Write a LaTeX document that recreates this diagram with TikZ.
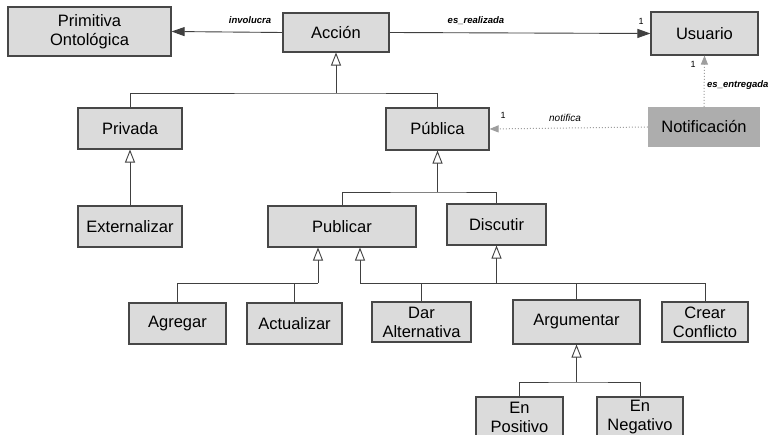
\documentclass[tikz,border=0pt]{standalone}
\usepackage{fontspec}
\setmainfont{Liberation Sans}
\usetikzlibrary{arrows.meta}

\definecolor{boxfill}{gray}{0.86}
\definecolor{boxline}{gray}{0.28}
\definecolor{darkfill}{gray}{0.68}
\definecolor{depline}{gray}{0.62}

\begin{document}
\begin{tikzpicture}[x=1pt,y=-1pt,
  cls/.style={draw=boxline, fill=boxfill, line width=1.1pt, inner sep=0pt,
    align=center, font=\fontsize{16.5}{19}\selectfont},
  notebox/.style={fill=darkfill, inner sep=0pt, align=center,
    font=\fontsize{16.5}{19}\selectfont},
  conn/.style={draw=black!75, line width=0.9pt},
  gen/.style={conn, -{Triangle[length=13pt, width=10pt, fill=white, line width=0.9pt]}},
  assoc/.style={conn, -{Triangle[length=13pt, width=9pt]}},
  dep/.style={draw=depline, line width=1pt, dotted,
    -{Triangle[length=9pt, width=7pt, fill=depline]}},
  rolelbl/.style={font=\fontsize{9.5}{11}\selectfont\bfseries\itshape, inner sep=0pt},
  multlbl/.style={font=\fontsize{9}{11}\selectfont, inner sep=0pt}]

\useasboundingbox (0,0) rectangle (774,435);
\fill[white] (0,0) rectangle (774,435);

% classes
\node[cls, minimum width=163pt, minimum height=49pt] (prim) at (89.5,31.5) {Primitiva\\Ontológica};
\node[cls, minimum width=106pt, minimum height=39pt] (accion) at (336,32.5) {Acción};
\node[cls, minimum width=107pt, minimum height=43pt] (usuario) at (704.5,33.5) {Usuario};
\node[notebox, minimum width=112pt, minimum height=40pt] (notif) at (704,127) {Notificación};
\node[cls, minimum width=104pt, minimum height=41pt] (privada) at (130,128.5) {Privada};
\node[cls, minimum width=103pt, minimum height=42pt] (publica) at (437.5,129) {Pública};
\node[cls, minimum width=104pt, minimum height=41pt] (extern) at (130,226.5) {Externalizar};
\node[cls, minimum width=148pt, minimum height=41pt] (publicar) at (342,226.5) {Publicar};
\node[cls, minimum width=99pt, minimum height=41pt] (discutir) at (496.5,224.5) {Discutir};
\node[cls, minimum width=97pt, minimum height=41pt] (agregar) at (177.5,323.5) {Agregar};
\node[cls, minimum width=95pt, minimum height=41pt] (actualizar) at (294.5,323.5) {Actualizar};
\node[cls, minimum width=99pt, minimum height=40pt] (dar) at (421.5,322) {Dar\\Alternativa};
\node[cls, minimum width=127pt, minimum height=44pt] (argumentar) at (576.5,322) {Argumentar};
\node[cls, minimum width=86pt, minimum height=40pt] (crear) at (705,322) {Crear\\Conflicto};
\node[cls, minimum width=87pt, minimum height=40pt] (enpos) at (519.5,417) {En\\Positivo};
\node[cls, minimum width=86pt, minimum height=40pt] (enneg) at (640,417) {En\\Negativo};

% associations
\draw[assoc] (accion.west) -- (prim.east);
\node[rolelbl] (lblinv) at (250,20) {involucra};
\draw[assoc] (accion.east) -- (usuario.west);
\node[rolelbl] (lblreal) at (476,21) {es\_realizada};
\node[multlbl] (m1) at (641,21) {1};

% notifications
\draw[dep] (notif.north) -- (usuario.south);
\node[multlbl] (m2) at (693,64) {1};
\node[rolelbl, anchor=west] (lblent) at (707,85) {es\_entregada};
\draw[dep] (notif.west) -- (publica.east);
\node[font=\fontsize{10}{12}\selectfont\itshape, inner sep=0pt] (lblnot) at (565,118) {notifica};
\node[multlbl] (m3) at (503,115) {1};

% generalization: Acción
\coordinate (j1) at (336,93);
\draw[conn] (privada.north) |- (j1) -| (publica.north);
\draw[gen] (j1) -- (accion.south);

% generalization: Privada
\draw[gen] (extern.north) -- (privada.south);

% generalization: Pública
\coordinate (j2) at (437.5,192);
\draw[conn] (publicar.north) |- (j2) -| (discutir.north);
\draw[gen] (j2) -- (publica.south);

% generalization: Publicar (left branch)
\coordinate (j3) at (318,283);
\draw[conn] (agregar.north) |- (j3);
\draw[conn] (actualizar.north) -- (actualizar.north |- j3);
\draw[gen] (j3) -- (j3 |- publicar.south);

% generalization: Publicar (right branch) and Discutir
\coordinate (j4) at (360,283);
\coordinate (j5) at (496.5,283);
\draw[conn] (j4) -| (crear.north);
\draw[conn] (dar.north) -- (dar.north |- j4);
\draw[conn] (argumentar.north) -- (argumentar.north |- j4);
\draw[gen] (j4) -- (j4 |- publicar.south);
\draw[gen] (j5) -- (discutir.south);

% generalization: Argumentar
\coordinate (j6) at (576.5,382);
\draw[conn] (enpos.north) |- (j6) -| (enneg.north);
\draw[gen] (j6) -- (argumentar.south);
\end{tikzpicture}
\end{document}
